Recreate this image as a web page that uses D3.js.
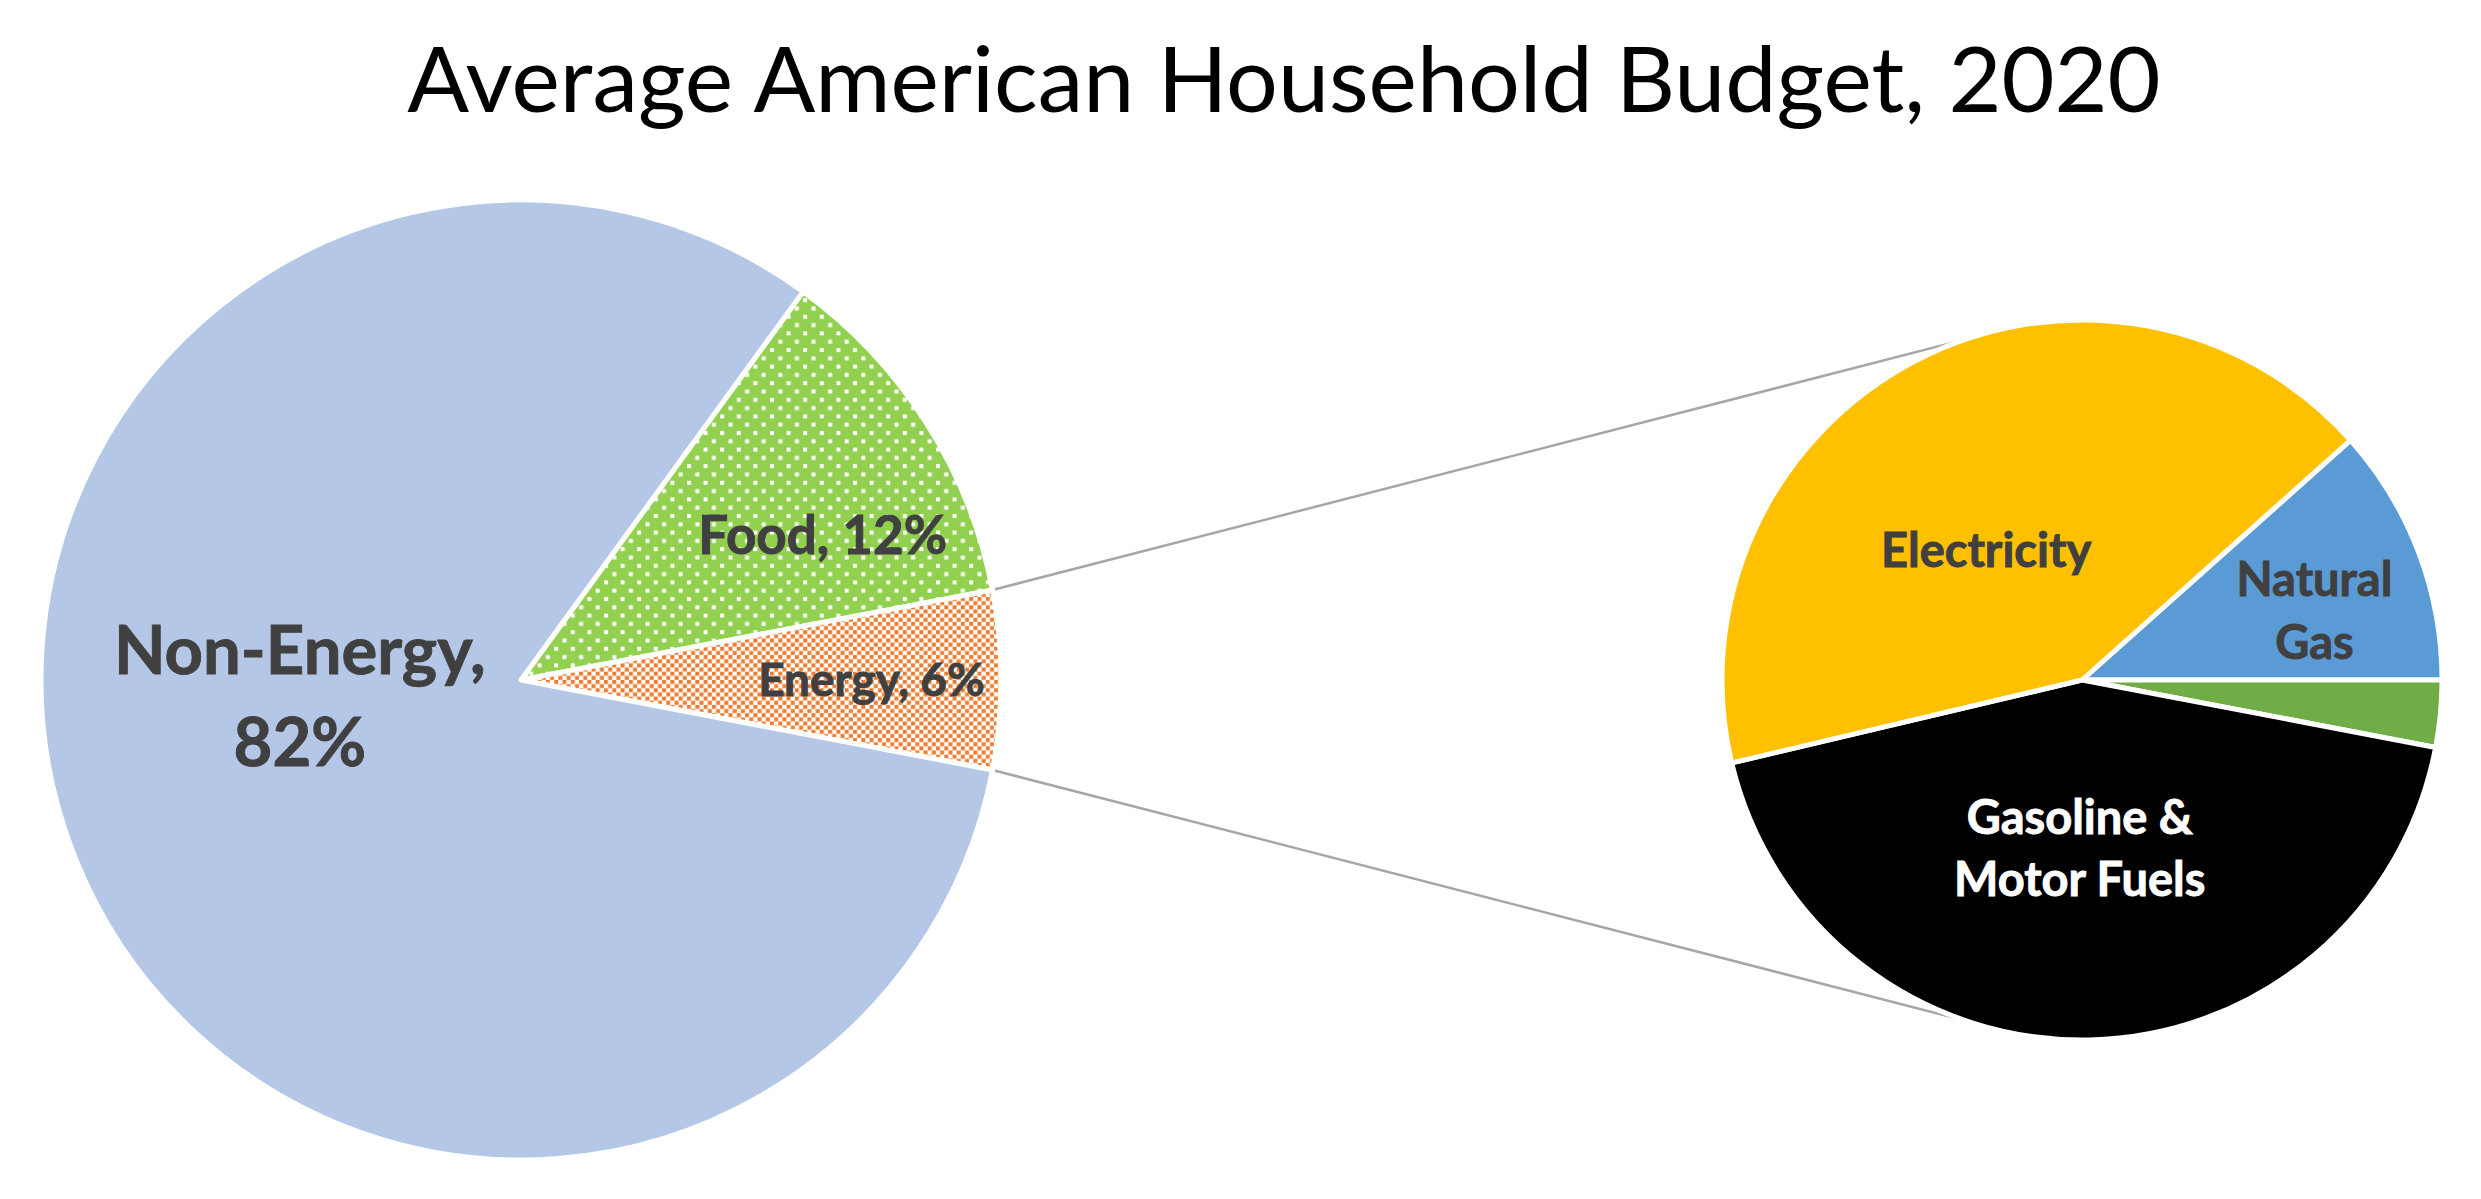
<!DOCTYPE html>
<html><head><meta charset="utf-8">
<script src="https://cdn.jsdelivr.net/npm/d3@7"></script>
<style>html,body{margin:0;padding:0;background:#fff;} svg{display:block;}</style>
</head><body>
<svg id="chart" width="2481" height="1199"></svg>
<script>
// ---------- data ----------
const chartTitle = "Average American Household Budget, 2020";
const mainCategories = ["Food", "Energy", "Non-Energy"];
const mainValues = [12, 6, 82];
const mainLabels = [["Food, 12%"], ["Energy, 6%"], ["Non-Energy,", "82%"]];
const energyCategories = ["Natural Gas", "Other", "Gasoline & Motor Fuels", "Electricity"];
const energyValues = [11.6, 3.0, 43.3, 42.1];
const energyLabels = [["Natural", "Gas"], [], ["Gasoline &", "Motor Fuels"], ["Electricity"]];

// ---------- layout / style ----------
const W = 2481, H = 1199;
const cx1 = 521, cy = 680, R1 = 480;
const cx2 = 2082, R2 = 360;
const FONT = "Lato, 'Open Sans', sans-serif";
const mainFill = {"Food": "url(#foodPat)", "Energy": "url(#energyPat)", "Non-Energy": "#B4C7E7"};
const energyFill = {"Natural Gas": "#5B9BD5", "Other": "#70AD47", "Gasoline & Motor Fuels": "#000000", "Electricity": "#FFC000"};
const mainLabelStyle = {
  "Food": {rf: 0.70, dx: 18, dy: 35, size: 53, lh: 64, color: "#404040"},
  "Energy": {rf: 0.73, dx: 0, dy: 0, size: 46, lh: 56, color: "#404040"},
  "Non-Energy": {rf: 0.50, dx: 2, dy: -72, size: 67, lh: 92, color: "#404040"}
};
const energyLabelStyle = {
  "Natural Gas": {rf: 0.70, dx: -3, dy: 20, size: 47, lh: 63, color: "#404040"},
  "Other": {rf: 0.8, dx: 0, dy: 0, size: 47, lh: 63, color: "#404040"},
  "Gasoline & Motor Fuels": {rf: 0.47, dx: -6, dy: -1, size: 47, lh: 62, color: "#FFFFFF"},
  "Electricity": {rf: 0.45, dx: -21, dy: 14, size: 47, lh: 63, color: "#404040"}
};
const CAP = 0.7165; // Lato cap height ratio

const svg = d3.select("#chart");
svg.append("rect").attr("width", W).attr("height", H).attr("fill", "#fff");
const defs = svg.append("defs");

// Food pattern: green with white dots
const fp = defs.append("pattern").attr("id", "foodPat").attr("patternUnits", "userSpaceOnUse")
  .attr("width", 16.6).attr("height", 16.6);
fp.append("rect").attr("width", 16.6).attr("height", 16.6).attr("fill", "#92D050");
fp.append("rect").attr("x", 0).attr("y", 0).attr("width", 4).attr("height", 4).attr("fill", "#fff");
fp.append("rect").attr("x", 8.3).attr("y", 8.3).attr("width", 4).attr("height", 4).attr("fill", "#fff");

// Energy pattern: orange checker on white
const ep = defs.append("pattern").attr("id", "energyPat").attr("patternUnits", "userSpaceOnUse")
  .attr("width", 8.3).attr("height", 8.3);
ep.append("rect").attr("width", 8.3).attr("height", 8.3).attr("fill", "#fff");
ep.append("rect").attr("x", 0).attr("y", 0).attr("width", 4).attr("height", 4).attr("fill", "#ED7D31");
ep.append("rect").attr("x", 4.15).attr("y", 4.15).attr("width", 4).attr("height", 4).attr("fill", "#ED7D31");

// ---------- pies ----------
const mainTotal = d3.sum(mainValues);
const iEnergy = mainCategories.indexOf("Energy");
const beforeEnergy = d3.sum(mainValues.slice(0, iEnergy));
const mainStart = Math.PI / 2 - (beforeEnergy + mainValues[iEnergy] / 2) / mainTotal * 2 * Math.PI;
const mainPie = d3.pie().sort(null).value(d => d.v).startAngle(mainStart).endAngle(mainStart + 2 * Math.PI);
const mainArcs = mainPie(mainCategories.map((c, i) => ({c, v: mainValues[i], lab: mainLabels[i]})));

const eTotal = d3.sum(energyValues);
const eStart = Math.PI / 2 - energyValues[0] / eTotal * 2 * Math.PI;
const ePie = d3.pie().sort(null).value(d => d.v).startAngle(eStart).endAngle(eStart + 2 * Math.PI);
const eArcs = ePie(energyCategories.map((c, i) => ({c, v: energyValues[i], lab: energyLabels[i]})));

const arc1 = d3.arc().innerRadius(0).outerRadius(R1);
const arc2 = d3.arc().innerRadius(0).outerRadius(R2);

// connector lines
const energyArc = mainArcs[iEnergy];
const pt = (cx, r, a) => [cx + r * Math.sin(a), cy - r * Math.cos(a)];
const connUpperAngle = (339.5) * Math.PI / 180;
const connLowerAngle = (200.5) * Math.PI / 180;
const conns = [
  [pt(cx1, R1 - 2, energyArc.startAngle), pt(cx2, R2 + 1, connUpperAngle)],
  [pt(cx1, R1 - 2, energyArc.endAngle), pt(cx2, R2 + 1, connLowerAngle)]
];
svg.append("g").selectAll("line").data(conns).join("line")
  .attr("x1", d => d[0][0]).attr("y1", d => d[0][1])
  .attr("x2", d => d[1][0]).attr("y2", d => d[1][1])
  .attr("stroke", "#A6A6A6").attr("stroke-width", 2.5);

const g1 = svg.append("g").attr("transform", `translate(${cx1},${cy})`);
g1.selectAll("path").data(mainArcs).join("path")
  .attr("d", arc1).attr("fill", d => mainFill[d.data.c])
  .attr("stroke", "#fff").attr("stroke-width", 5).attr("stroke-linejoin", "round");

const g2 = svg.append("g").attr("transform", `translate(${cx2},${cy})`);
g2.selectAll("path").data(eArcs).join("path")
  .attr("d", arc2).attr("fill", d => energyFill[d.data.c])
  .attr("stroke", "#fff").attr("stroke-width", 5).attr("stroke-linejoin", "round");

function drawLabels(g, arcs, R, styles) {
  arcs.forEach(d => {
    const lines = d.data.lab;
    if (!lines.length) return;
    const s = styles[d.data.c];
    const mid = (d.startAngle + d.endAngle) / 2;
    const x = s.rf * R * Math.sin(mid) + s.dx;
    const y = -s.rf * R * Math.cos(mid) + s.dy;
    const first = y - (lines.length - 1) * s.lh / 2 + s.size * CAP / 2;
    const t = g.append("text").attr("text-anchor", "middle")
      .attr("font-family", FONT).attr("font-weight", 700)
      .attr("font-size", s.size).attr("fill", s.color)
      .attr("stroke", s.color).attr("stroke-width", 0.9).attr("paint-order", "stroke");
    lines.forEach((ln, i) => {
      t.append("tspan").attr("x", x).attr("y", first + i * s.lh).text(ln);
    });
  });
}
drawLabels(g1, mainArcs, R1, mainLabelStyle);
drawLabels(g2, eArcs, R2, energyLabelStyle);

// title
svg.append("text").attr("x", 1284).attr("y", 112).attr("text-anchor", "middle")
  .attr("font-family", FONT).attr("font-size", 91.5).attr("fill", "#000")
  .text(chartTitle);
</script>
</body></html>
